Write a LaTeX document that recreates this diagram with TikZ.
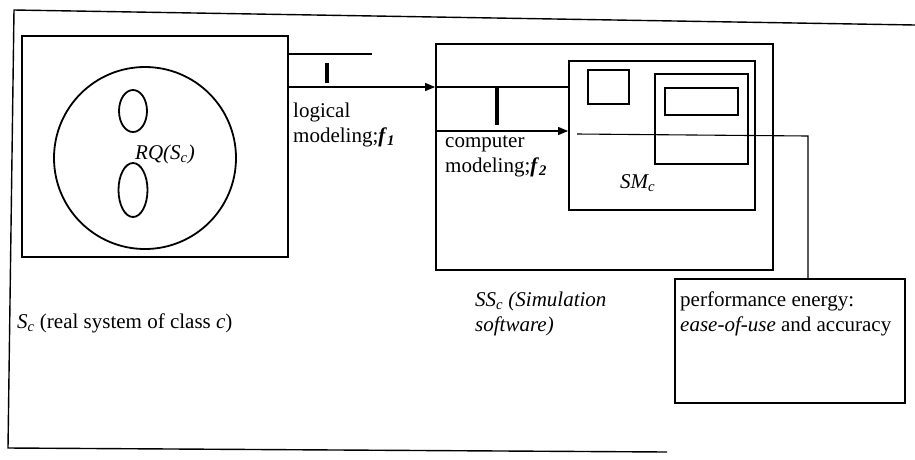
\documentclass[tikz,border=0pt]{standalone}
\usepackage{fontspec}
\setmainfont{Liberation Serif}
\usetikzlibrary{arrows.meta,positioning,shapes.geometric}

\begin{document}
\begin{tikzpicture}[x=1pt,y=-1pt,
    box/.style={draw, line width=1.8pt, inner sep=0pt},
    link/.style={line width=1.1pt},
    tickmark/.style={line width=3.5pt},
    lbl/.style={font=\fontsize{21}{24.5}\selectfont, align=left, inner sep=0pt, anchor=base west}]
  \useasboundingbox (0,0) rectangle (915,459);
  % outer frame
  \draw[line width=1.4pt] (915,25) -- (14,10) -- (8,448) -- (667,452);
  % real system
  \node[box, minimum width=266, minimum height=221] (sys) at (155,146.5) {};
  \node[box, circle, minimum size=182] (world) at (145,158) {};
  \node[box, ellipse, minimum width=28, minimum height=42] (qtop) at (133,111) {};
  \node[box, ellipse, minimum width=29, minimum height=54] (qbot) at (133,190) {};
  \node[lbl, anchor=base] (rq) at (165,159) {\itshape RQ(S\textsubscript{c})};
  \node[lbl] (syslbl) at (17,328) {\textit{S}\textsubscript{\textit{c}} (real system of class \textit{c})};
  % simulation software
  \node[box, minimum width=337, minimum height=226] (soft) at (604.5,157) {};
  \node[box, minimum width=186, minimum height=149] (sm) at (662,135.5) {};
  \node[box, minimum width=41, minimum height=34] (smsq) at (608.5,87) {};
  \node[box, minimum width=93, minimum height=90] (smin) at (701.5,119) {};
  \node[box, minimum width=73, minimum height=27] (smbar) at (701.5,101.5) {};
  \node[lbl] (smlbl) at (620,188) {\itshape SM\textsubscript{c}};
  \node[lbl] (softlbl) at (475,331) {\itshape SS\textsubscript{c} (Simulation\\\itshape software)};
  % performance
  \node[box, line width=1.3pt, minimum width=230, minimum height=124] (perf) at (790,341) {};
  \node[lbl] (perflbl) at (680,331) {performance energy:\\\textit{ease-of-use} and accuracy};
  % connectors
  \coordinate (top1) at (372,54);
  \coordinate (row1) at (360,87);
  \coordinate (row2) at (500,131);
  \coordinate (out) at (577,134);
  \coordinate (turn) at (808,136);
  \draw[link] (sys.east |- top1) -- (top1);
  \draw[link, -{Triangle[length=10pt,width=8pt]}] (sys.east |- row1) -- (soft.west |- row1);
  \draw[link] (soft.west |- row1) -- (sm.west |- row1);
  \draw[link, -{Triangle[length=10pt,width=8pt]}] (soft.west |- row2) -- (sm.west |- row2);
  \draw[link] (out) -- (turn) -- (turn |- perf.north);
  \draw[tickmark] (327,63) -- (327,83);
  \draw[tickmark] (497,88) -- (497,125);
  \node[lbl] (f1) at (293,142) {logical\\modeling;\textit{\textbf{f}}\textsubscript{\textit{\textbf{1}}}};
  \node[lbl] (f2) at (445,172) {computer\\modeling;\textit{\textbf{f}}\textsubscript{\textit{\textbf{2}}}};
\end{tikzpicture}
\end{document}
